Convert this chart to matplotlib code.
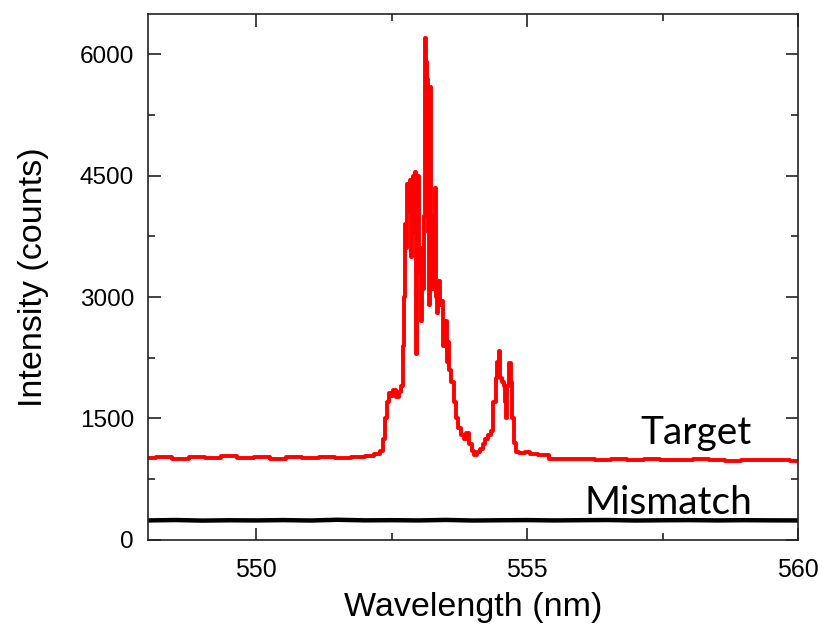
import numpy as np
import matplotlib
matplotlib.use("Agg")
import matplotlib.pyplot as plt
from matplotlib.ticker import MultipleLocator

# Target spectrum (red)
target_wl = [548.0, 548.3, 548.6, 548.9, 549.2, 549.5, 549.8, 550.1, 550.4, 550.7,
             551.0, 551.3, 551.6, 551.9, 552.1, 552.25, 552.32, 552.36, 552.40, 552.43,
             552.46, 552.50, 552.55, 552.60, 552.65, 552.70, 552.72, 552.74, 552.76, 552.78,
             552.80, 552.82, 552.84, 552.86, 552.88, 552.90, 552.92, 552.94, 552.96, 552.98,
             553.00, 553.02, 553.04, 553.06, 553.08, 553.10, 553.12, 553.14, 553.16, 553.18,
             553.20, 553.22, 553.24, 553.26, 553.28, 553.30, 553.32, 553.34, 553.37, 553.40,
             553.43, 553.46, 553.50, 553.52, 553.55, 553.58, 553.62, 553.66, 553.70, 553.75,
             553.80, 553.85, 553.90, 553.95, 554.00, 554.05, 554.10, 554.15, 554.20, 554.25,
             554.30, 554.35, 554.40, 554.43, 554.46, 554.49, 554.52, 554.55, 554.58, 554.60,
             554.62, 554.65, 554.68, 554.71, 554.74, 554.77, 554.80, 554.90, 555.00, 555.10,
             555.30, 555.50, 555.80, 556.10, 556.40, 556.70, 557.00, 557.30, 557.60, 557.90,
             558.20, 558.50, 558.80, 559.10, 559.40, 559.70, 560.00]
target_counts = [1010, 1025, 1005, 1020, 1015, 1030, 1010, 1020, 1005, 1025,
                 1015, 1020, 1010, 1025, 1030, 1060, 1100, 1250, 1500, 1700,
                 1820, 1780, 1850, 1760, 1830, 1900, 2400, 3000, 3900, 3600,
                 4400, 4050, 4450, 3500, 3800, 4500, 4300, 4550, 2300, 3300,
                 4500, 3600, 2700, 3400, 3100, 4000, 6200, 5900, 5700, 3800,
                 2900, 5600, 4000, 3100, 3400, 4350, 3000, 2800, 3200, 2900,
                 2950, 2400, 2700, 2200, 2450, 2100, 1950, 1700, 1500, 1380,
                 1300, 1250, 1320, 1180, 1100, 1050, 1080, 1120, 1180, 1250,
                 1300, 1350, 1700, 2000, 2200, 2330, 2000, 1950, 1900, 1700,
                 1500, 1900, 2180, 1950, 1500, 1200, 1080, 1070, 1080, 1060,
                 1050, 1000, 995, 1000, 990, 995, 985, 1000, 990, 985,
                 995, 990, 980, 990, 985, 990, 980]

# Mismatch spectrum (black)
mismatch_wl = [548.0, 548.5, 549.0, 549.5, 550.0, 550.5, 551.0, 551.5, 552.0, 552.5,
               553.0, 553.5, 554.0, 554.5, 555.0, 555.5, 556.0, 556.5, 557.0, 557.5,
               558.0, 558.5, 559.0, 559.5, 560.0]
mismatch_counts = [240, 245, 238, 242, 240, 244, 239, 248, 241, 243,
                   240, 246, 239, 242, 244, 240, 243, 245, 239, 242,
                   244, 240, 243, 241, 240]

xticks = [550, 555, 560]
yticks = [0, 1500, 3000, 4500, 6000]

plt.rcParams['font.family'] = ['Liberation Sans', 'DejaVu Sans']

fig = plt.figure(figsize=(8.22, 6.27), dpi=100)
ax = fig.add_axes([0.180, 0.139, 0.791, 0.839])

ax.plot(target_wl, target_counts, color="red", lw=2.8, drawstyle="steps-mid")
ax.plot(mismatch_wl, mismatch_counts, color="black", lw=3.2)

ax.set_xlim(548, 560)
ax.set_ylim(0, 6500)
ax.set_xticks(xticks)
ax.set_yticks(yticks)
ax.xaxis.set_minor_locator(MultipleLocator(2.5))
ax.yaxis.set_minor_locator(MultipleLocator(750))

ax.tick_params(which="both", direction="in", top=True, right=True, width=1.2, color="#222222")
ax.tick_params(which="major", length=9)
ax.tick_params(which="minor", length=5)
ax.tick_params(axis="x", labelsize=18, pad=13)
ax.tick_params(axis="y", labelsize=17.5, pad=10)
for s in ax.spines.values():
    s.set_linewidth(1.2)
    s.set_color("#222222")

ax.set_xlabel("Wavelength (nm)", fontsize=24.5, labelpad=7)
ax.set_ylabel("Intensity (counts)", fontsize=24.5, labelpad=22)

ax.text(559.15, 1190, "Target", ha="right", va="baseline", fontsize=28, family=["Lato", "DejaVu Sans"])
ax.text(559.15, 322, "Mismatch", ha="right", va="baseline", fontsize=28, family=["Lato", "DejaVu Sans"])

fig.savefig("out.png", dpi=100)
